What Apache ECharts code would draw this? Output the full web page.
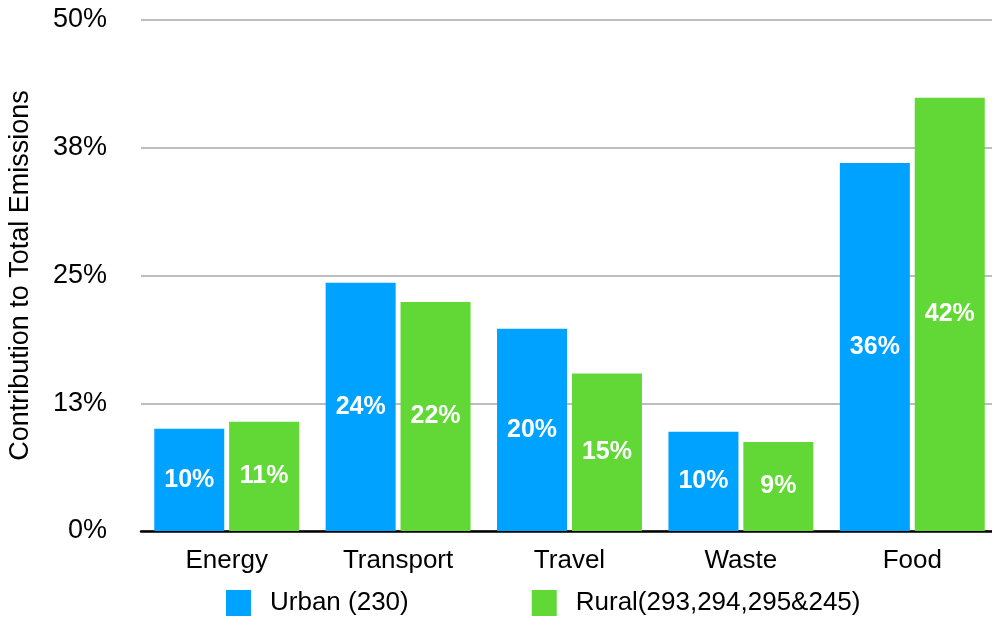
<!DOCTYPE html>
<html>
<head>
<meta charset="utf-8">
<script src="https://cdn.jsdelivr.net/npm/echarts@6/dist/echarts.min.js"></script>
<style>
  html, body { margin: 0; padding: 0; background: #fff; }
  #chart { width: 992px; height: 621px; }
</style>
</head>
<body>
<div id="chart"></div>
<script>
// Emission contribution by category (percent of total)
const categories = ['Energy', 'Transport', 'Travel', 'Waste', 'Food'];
const urbanName = 'Urban (230)';
const ruralName = 'Rural(293,294,295&245)';
const urbanValues = [10.0, 24.3, 19.8, 9.7, 36.0];
const ruralValues = [10.7, 22.4, 15.4, 8.7, 42.4];
const yTicks = [0, 12.5, 25, 37.5, 50];

const FONT = '"Liberation Sans", Arial, Helvetica, sans-serif';
const pct = v => Math.round(v) + '%';

const chart = echarts.init(document.getElementById('chart'), null, { renderer: 'canvas' });

const labelStyle = {
  show: true,
  position: 'inside',
  color: '#ffffff',
  fontFamily: FONT,
  fontWeight: 'bold',
  fontSize: 25,
  formatter: p => pct(p.value)
};

chart.setOption({
  animation: false,
  backgroundColor: '#ffffff',
  grid: {
    left: 141, right: -6, top: 20, bottom: 90,
    containLabel: false,
    outerBoundsMode: 'none'
  },
  legend: {
    data: [urbanName, ruralName],
    left: 226,
    top: 590,
    padding: 0,
    itemWidth: 25,
    itemHeight: 26,
    itemGap: 123,
    icon: 'rect',
    textStyle: { fontFamily: FONT, fontSize: 26, color: '#000', padding: [0, 0, 0, 14] }
  },
  xAxis: {
    type: 'category',
    data: categories,
    axisLine: { lineStyle: { color: '#000', width: 2.5 } },
    axisTick: { show: false },
    axisLabel: { fontFamily: FONT, fontSize: 26, color: '#000', margin: 17 }
  },
  yAxis: {
    type: 'value',
    min: yTicks[0],
    max: yTicks[yTicks.length - 1],
    interval: yTicks[1] - yTicks[0],
    name: 'Contribution to Total Emissions',
    nameLocation: 'middle',
    nameGap: 107,
    nameRotate: 90,
    nameTextStyle: { fontFamily: FONT, fontSize: 27, color: '#000' },
    axisLine: { show: false },
    axisTick: { show: false },
    axisLabel: { fontFamily: FONT, fontSize: 27, color: '#000', margin: 34, formatter: pct },
    splitLine: { lineStyle: { color: '#bdbdbd', width: 2 } }
  },
  series: [
    {
      name: urbanName,
      type: 'bar',
      data: urbanValues,
      barWidth: 70,
      barGap: '7%',
      itemStyle: { color: '#00A2FF' },
      label: labelStyle
    },
    {
      name: ruralName,
      type: 'bar',
      data: ruralValues,
      barWidth: 70,
      barGap: '7%',
      itemStyle: { color: '#61D836' },
      label: labelStyle
    }
  ]
});
</script>
</body>
</html>
